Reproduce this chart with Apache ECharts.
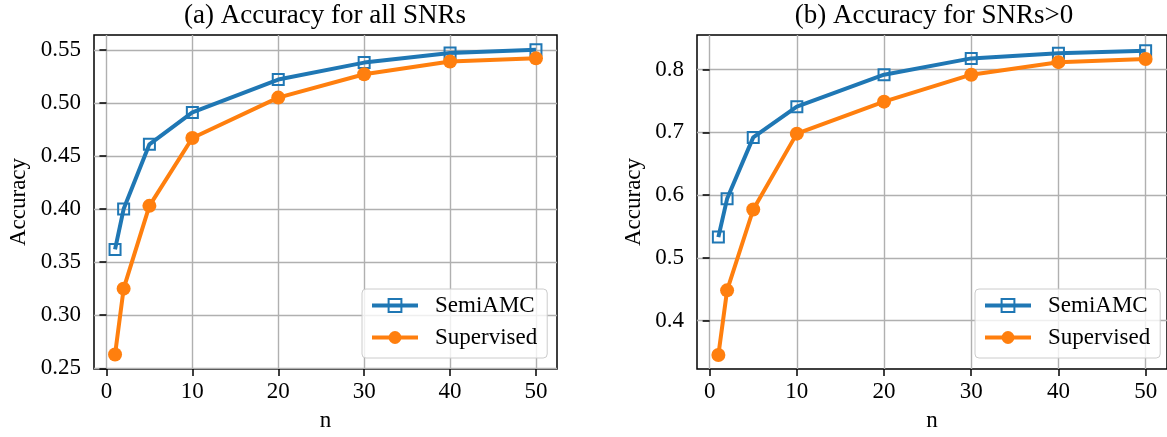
<!DOCTYPE html>
<html lang="en">
<head>
    <meta charset="UTF-8"/>
    <style>
        html, body { margin: 0; padding: 0; background: #fff; }
    </style>
</head>
<body>

<div id="main" style="width: 1167px;height:437px;"></div>

<script src="https://cdn.jsdelivr.net/npm/echarts@6/dist/echarts.min.js"></script>
<script type="text/javascript">

    // data
    var nValues = [1, 2, 5, 10, 20, 30, 40, 50];
    var semiAll = [0.362, 0.400, 0.461, 0.491, 0.522, 0.538, 0.547, 0.550];
    var supAll = [0.263, 0.325, 0.403, 0.467, 0.505, 0.527, 0.539, 0.542];
    var semiPos = [0.533, 0.594, 0.692, 0.741, 0.792, 0.818, 0.826, 0.830];
    var supPos = [0.345, 0.448, 0.577, 0.698, 0.749, 0.792, 0.812, 0.817];

    // tick labels
    var xTicks = [0, 10, 20, 30, 40, 50];
    var leftTicks = [0.25, 0.30, 0.35, 0.40, 0.45, 0.50, 0.55];
    var rightTicks = [0.4, 0.5, 0.6, 0.7, 0.8];

    var FONT = 'Liberation Serif';
    var BLUE = '#1f77b4';
    var ORANGE = '#ff7f0e';
    var LINE_W = 4;

    function pairs(xs, ys) {
        return xs.map(function (x, i) { return [x, ys[i]]; });
    }

    function xAxisFor(gridIndex) {
        return {
            type: 'value',
            gridIndex: gridIndex,
            min: -1.45,
            max: 52.45,
            name: 'n',
            nameLocation: 'middle',
            nameGap: 40,
            nameTextStyle: {fontFamily: FONT, fontSize: 23, color: '#000'},
            axisLine: {show: false},
            axisTick: {show: true, inside: false, length: 7, customValues: xTicks,
                lineStyle: {color: '#000', width: 1.5}},
            axisLabel: {show: true, customValues: xTicks, margin: 11,
                fontFamily: FONT, fontSize: 23, color: '#000'},
            splitLine: {show: true, lineStyle: {color: '#b0b0b0', width: 1.4}}
        };
    }

    function yAxisFor(gridIndex, min, max, ticks, digits, gap) {
        return {
            type: 'value',
            gridIndex: gridIndex,
            min: min,
            max: max,
            name: 'Accuracy',
            nameLocation: 'middle',
            nameGap: gap,
            nameTextStyle: {fontFamily: FONT, fontSize: 23, color: '#000'},
            axisLine: {show: false},
            axisTick: {show: true, inside: false, length: 7, customValues: ticks,
                lineStyle: {color: '#000', width: 1.5}},
            axisLabel: {show: true, customValues: ticks, margin: 13,
                fontFamily: FONT, fontSize: 23, color: '#000',
                formatter: function (v) { return v.toFixed(digits); }},
            splitLine: {show: true, lineStyle: {color: '#b0b0b0', width: 1.4}}
        };
    }

    function semiSeries(idx, ys) {
        return {
            name: 'SemiAMC',
            type: 'line',
            xAxisIndex: idx,
            yAxisIndex: idx,
            data: pairs(nValues, ys),
            symbol: 'rect',
            symbolSize: 11,
            lineStyle: {color: BLUE, width: LINE_W},
            itemStyle: {color: 'rgba(255,255,255,0)', borderColor: BLUE, borderWidth: 2},
            emphasis: {disabled: true},
            z: 3
        };
    }

    function supSeries(idx, ys) {
        return {
            name: 'Supervised',
            type: 'line',
            xAxisIndex: idx,
            yAxisIndex: idx,
            data: pairs(nValues, ys),
            symbol: 'circle',
            symbolSize: 14,
            lineStyle: {color: ORANGE, width: LINE_W},
            itemStyle: {color: ORANGE, borderWidth: 0},
            emphasis: {disabled: true},
            z: 4
        };
    }

    function legendFor(left) {
        return {
            orient: 'vertical',
            left: left,
            top: 289,
            data: ['SemiAMC', 'Supervised'],
            itemWidth: 46,
            itemHeight: 16,
            itemGap: 9,
            padding: [5, 10, 9, 8],
            backgroundColor: 'rgba(255,255,255,0.8)',
            borderColor: '#cccccc',
            borderWidth: 1,
            borderRadius: 4,
            lineStyle: {width: LINE_W},
            textStyle: {fontFamily: FONT, fontSize: 23, color: '#000', padding: [0, 0, 0, 12]}
        };
    }

    var myChart = echarts.init(document.getElementById('main'));

    var options = {
        animation: false,
        backgroundColor: '#fff',
        title: [
            {text: '(a) Accuracy for all SNRs', left: 325, top: 2, textAlign: 'center', padding: 0,
                textStyle: {fontFamily: FONT, fontSize: 27, fontWeight: 'normal', color: '#000'}},
            {text: '(b) Accuracy for SNRs>0', left: 934, top: 2, textAlign: 'center', padding: 0,
                textStyle: {fontFamily: FONT, fontSize: 27, fontWeight: 'normal', color: '#000'}}
        ],
        grid: [
            {left: 94, right: 610, top: 35, bottom: 65, show: true,
                borderColor: '#000', borderWidth: 1.5, containLabel: false},
            {left: 697, right: -4, top: 35, bottom: 65, show: true,
                borderColor: '#000', borderWidth: 1.5, containLabel: false}
        ],
        legend: [
            legendFor(362),
            legendFor(975)
        ],
        xAxis: [xAxisFor(0), xAxisFor(1)],
        yAxis: [
            yAxisFor(0, 0.2493, 0.564, leftTicks, 2, 64),
            yAxisFor(1, 0.3226, 0.8553, rightTicks, 1, 52)
        ],
        series: [
            semiSeries(0, semiAll),
            supSeries(0, supAll),
            semiSeries(1, semiPos),
            supSeries(1, supPos)
        ]
    };

    myChart.setOption(options);

</script>

</body>
</html>
